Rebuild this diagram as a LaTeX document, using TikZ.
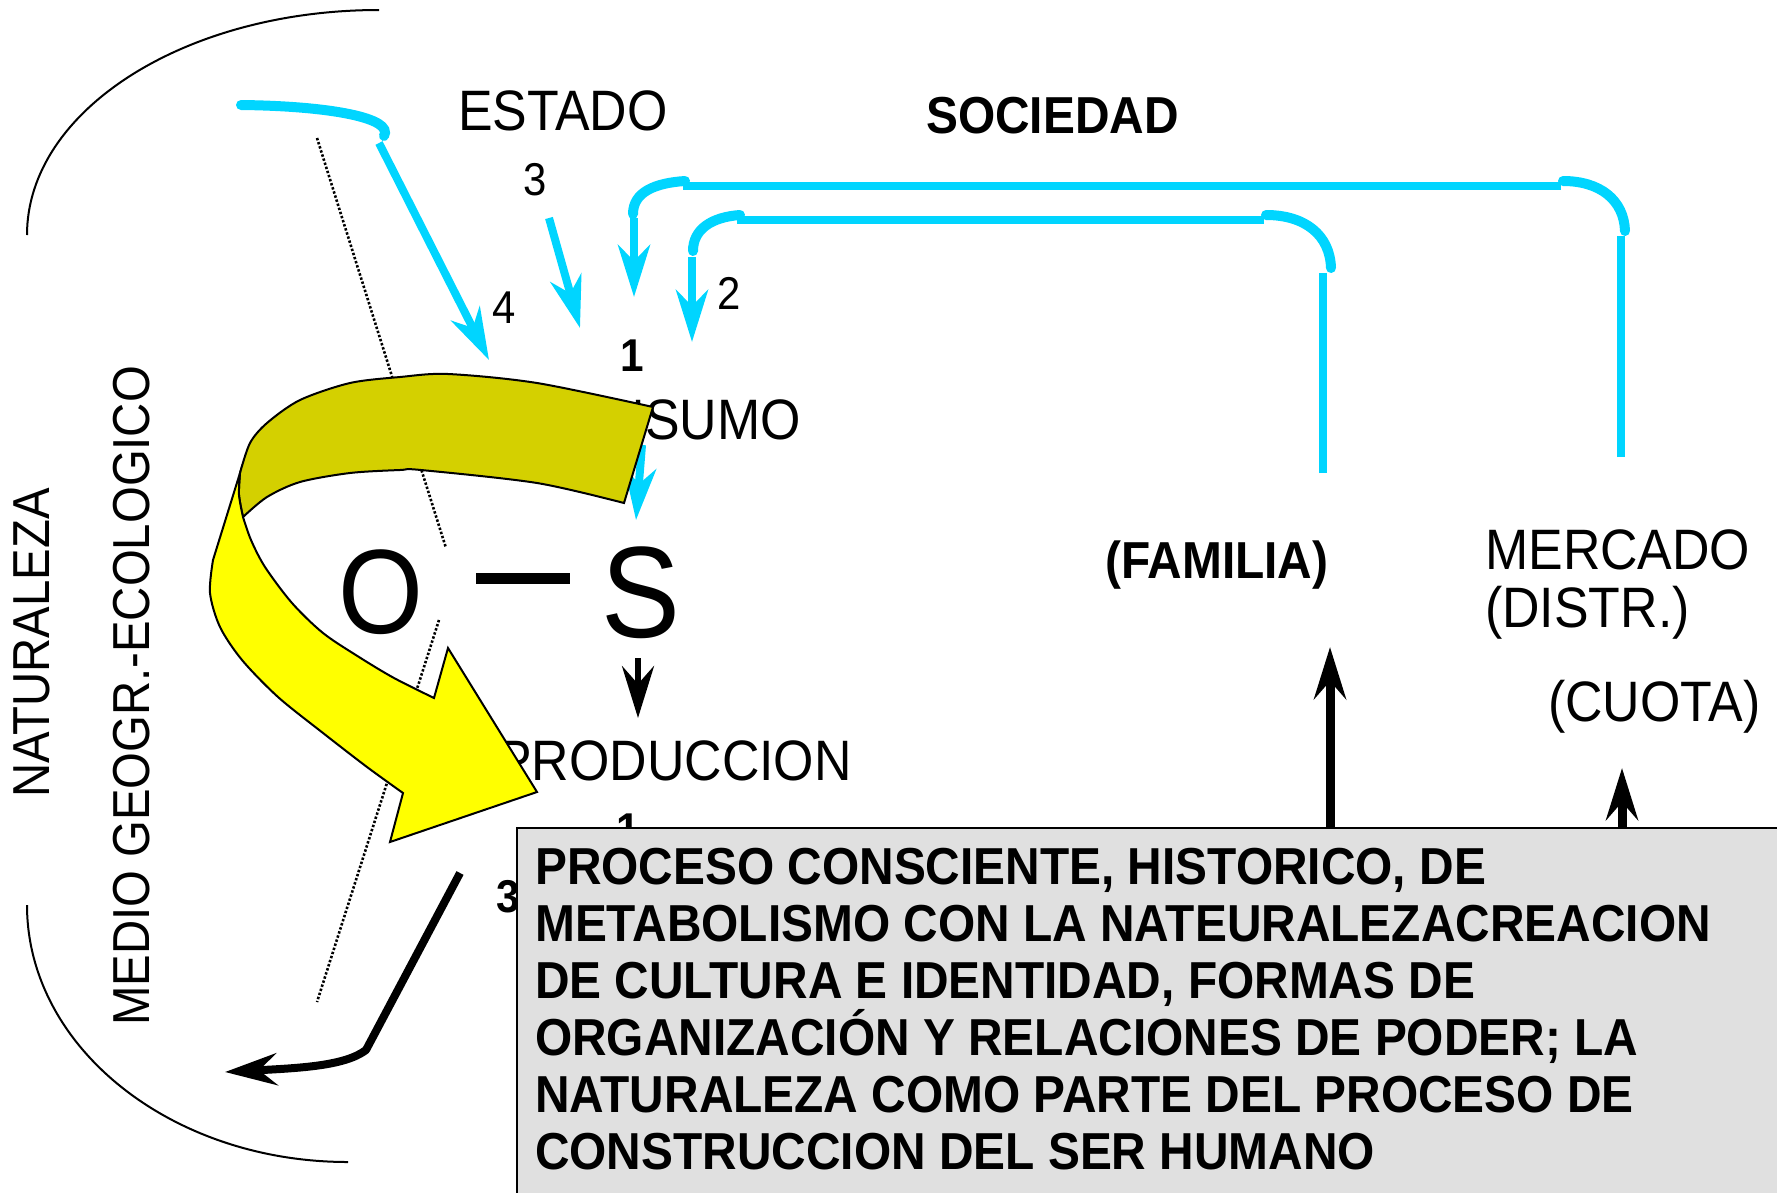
\documentclass[tikz,border=0pt]{standalone}
\usepackage{fontspec}
\setmainfont{Liberation Sans}[FakeStretch=0.91, BoldFeatures={FakeStretch=0.92}]
\usetikzlibrary{arrows.meta}
\definecolor{skyc}{HTML}{00D5FF}
\definecolor{olivearr}{HTML}{D4D000}
\definecolor{yellowarr}{HTML}{FFFF00}
\definecolor{boxgray}{HTML}{E0E0E0}
\begin{document}
\begin{tikzpicture}[x=1pt,y=-1pt,
  lbl/.style={inner sep=0pt, font=\fontsize{57}{63}\selectfont},
  sidelbl/.style={inner sep=0pt, font=\fontsize{52}{57}\selectfont, rotate=90},
  blbl/.style={inner sep=0pt, font=\fontsize{52}{57}\selectfont\bfseries},
  num/.style={inner sep=0pt, font=\fontsize{46}{50}\selectfont},
  bnum/.style={inner sep=0pt, font=\fontsize{46}{50}\selectfont\bfseries},
  skyarrow/.style={draw=skyc, line width=8pt, line join=round, -{Stealth[length=52pt,width=32pt,inset=16pt]}},
  skyplain/.style={draw=skyc, line width=8.5pt},
  skycurve/.style={draw=skyc, line width=10pt, line cap=round},
  blackarrow/.style={draw=black, line width=8pt, line join=round, -{Stealth[length=52pt,width=32pt,inset=18pt]}},
  arcline/.style={draw=black, line width=2pt},
  dotline/.style={draw=black, line width=2.6pt, dash pattern=on 2.4pt off 1.9pt},
  ribbon/.style={draw=black, line width=2pt, line join=miter}
]
\useasboundingbox (0,0) rectangle (1777,1192);
\clip (0,0) rectangle (1777,1192);

% outer arcs
\draw[arcline] (379,10) arc[start angle=90, end angle=180, x radius=352pt, y radius=225pt];
\draw[arcline] (27,905) arc[start angle=180, end angle=270, x radius=321pt, y radius=257pt];

% side labels
\node[sidelbl] (natur) at (32,643) {NATURALEZA};
\node[sidelbl] (medio) at (132,696) {MEDIO GEOGR.-ECOLOGICO};

% dotted line
\coordinate (d1a) at (317,138);
\coordinate (d1b) at (446,548);
\coordinate (d2a) at (439,620);
\coordinate (d2b) at (317,1002);
\draw[dotline] (d1a) -- (d1b);
\draw[dotline] (d2a) -- (d2b);

% labels
\node[lbl, anchor=base west] (estado) at (458,130) {ESTADO};
\node[blbl, anchor=base west] (sociedad) at (926,133) {SOCIEDAD};
\node[num, anchor=base] (n3) at (535,195) {3};
\node[num, anchor=base] (n4) at (504,323) {4};
\node[num, anchor=base] (n2) at (729,309) {2};
\node[bnum, anchor=base] (n1) at (632,371) {1};
\node[lbl, anchor=base east] (consumo) at (801,439) {CONSUMO};
\node[inner sep=0pt, font=\fontsize{120}{130}\selectfont, anchor=base] (objO) at (381,633) {O};
\node[fill=black, inner sep=0pt, minimum width=94pt, minimum height=11pt] (dash) at (523,578) {};
\node[inner sep=0pt, font=\fontsize{130}{140}\selectfont, anchor=base] (subjS) at (641,637) {S};
\node[lbl, anchor=base east] (produccion) at (852,780) {PRODUCCION};
\node[bnum, anchor=base] (n1b) at (628,845) {1};
\node[bnum, anchor=base] (n3b) at (508,912) {3};
\node[blbl, anchor=base west] (familia) at (1105,578) {(FAMILIA)};
\node[lbl, anchor=base west] (mercado) at (1485,569) {MERCADO};
\node[lbl, anchor=base west] (distr) at (1485,627) {(DISTR.)};
\node[lbl, anchor=base west] (cuota) at (1548,721) {(CUOTA)};

% cyan arrow 4
\coordinate (c4s) at (241,105);
\coordinate (c4k) at (384,136);
\coordinate (c4j) at (379,143);
\coordinate (c4e) at (489,360);
\draw[skycurve] (c4s) .. controls (330,106) and (394,118) .. (c4k);
\draw[skyarrow] (c4j) -- (c4e);
% cyan arrow 3
\coordinate (c3s) at (549,218);
\coordinate (c3e) at (580,328);
\draw[skyarrow] (c3s) -- (c3e);
% outer bracket
\coordinate (o1) at (1621,457);
\coordinate (o2) at (1621,236);
\coordinate (o2c) at (1625,231);
\coordinate (o3c) at (1563,181);
\coordinate (o3) at (1561,186);
\coordinate (o4) at (683,186);
\coordinate (o4c) at (685,181);
\coordinate (o5c) at (633,214);
\coordinate (o5) at (634,218);
\coordinate (o6) at (634,297);
\draw[skyplain] (o1) -- (o2);
\draw[skycurve] (o2c) .. controls (1624,200) and (1600,181) .. (o3c);
\draw[skyplain] (o3) -- (o4);
\draw[skycurve] (o4c) .. controls (655,183) and (633,192) .. (o5c);
\draw[skyarrow] (o5) -- (o6);
% inner bracket
\coordinate (i1) at (1323,473);
\coordinate (i2) at (1323,273);
\coordinate (i2c) at (1331,268);
\coordinate (i3c) at (1266,215);
\coordinate (i3) at (1264,220);
\coordinate (i4) at (737,220);
\coordinate (i4c) at (740,215);
\coordinate (i5c) at (693,251);
\coordinate (i5) at (692,257);
\coordinate (i6) at (692,342);
\draw[skyplain] (i1) -- (i2);
\draw[skycurve] (i2c) .. controls (1330,235) and (1305,215) .. (i3c);
\draw[skyplain] (i3) -- (i4);
\draw[skycurve] (i4c) .. controls (712,217) and (693,229) .. (i5c);
\draw[skyarrow] (i5) -- (i6);
% arrow under CONSUMO
\coordinate (cs) at (642,445);
\coordinate (ce) at (636,520);
\draw[skyarrow] (cs) -- (ce);

% ribbon arrow
\filldraw[ribbon, fill=olivearr]
  plot[smooth] coordinates {(653,407) (537,383) (448,374) (400,377) (350,383) (300,400) (267,423) (250,443) (240,473)}
  -- plot[smooth] coordinates {(240,473) (239,495) (243,517)}
  -- plot[smooth] coordinates {(243,517) (267,497) (300,482) (350,473) (400,470) (421,470) (537,483) (624,503)}
  -- cycle;
\filldraw[ribbon, fill=yellowarr]
  (240,473) -- (213,560)
  -- plot[smooth] coordinates {(213,560) (210,593) (220,627) (242,660) (278,697) (323,733) (367,767) (403,793)}
  -- (390,842) -- (537,792) -- (448,648) -- (434,698)
  -- plot[smooth] coordinates {(434,698) (394,678) (359,657) (323,633) (292,603) (265,567) (251,540) (243,517)}
  -- plot[smooth] coordinates {(243,517) (239,495) (240,473)}
  -- cycle;

% black arrows
\coordinate (sbase) at (638,658);
\coordinate (stip) at (638,718);
\draw[blackarrow, line width=6pt] (sbase) -- (stip);
\coordinate (b1) at (460,873);
\coordinate (b2) at (366,1050);
\coordinate (b3) at (225,1072);
\draw[blackarrow] (b1) -- (b2) .. controls (345,1066) and (300,1068) .. (b3);

% text box
\node[draw=black, line width=2pt, fill=boxgray, anchor=north west, inner sep=0pt, minimum width=1300pt, minimum height=400pt] (box) at (516,827) {};
\node[inner sep=0pt, anchor=north west, align=left, font=\fontsize{52}{57}\selectfont\bfseries] (boxtext) at (535,848)
{PROCESO CONSCIENTE, HISTORICO, DE\\METABOLISMO CON LA NATEURALEZACREACION\\DE CULTURA E IDENTIDAD, FORMAS DE\\ORGANIZACIÓN Y RELACIONES DE PODER; LA\\NATURALEZA COMO PARTE DEL PROCESO DE\\CONSTRUCCION DEL SER HUMANO};

\coordinate (fbase) at (1330,827);
\coordinate (ftip) at (1330,647);
\coordinate (qbase) at (1622,827);
\coordinate (qtip) at (1622,768);
\draw[blackarrow, line width=9pt] (fbase) -- (ftip);
\draw[blackarrow, line width=9pt] (qbase) -- (qtip);
\end{tikzpicture}
\end{document}
